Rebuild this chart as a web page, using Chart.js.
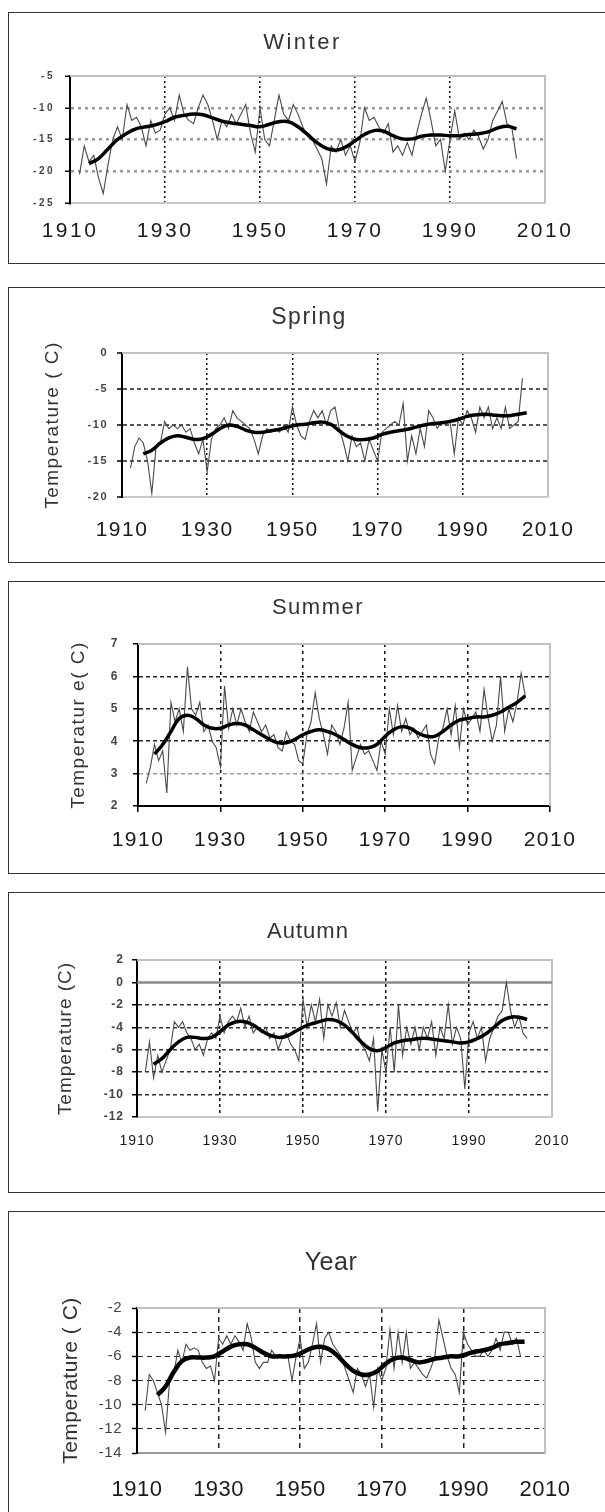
<!DOCTYPE html>
<html>
<head>
<meta charset="utf-8">
<script src="https://cdn.jsdelivr.net/npm/chart.js@4.4.1/dist/chart.umd.min.js"></script>
<style>
  html, body { margin: 0; padding: 0; background: #fff; }
  #page { position: relative; width: 605px; height: 1512px; overflow: hidden; }
  .box { position: absolute; left: 8px; width: 660px; border: 1.5px solid #333; box-sizing: border-box; }
  canvas { position: absolute; left: 0; }
</style>
</head>
<body>
<div id="page"></div>
<script>
// yearly values 1912-2004, smoothed curve read every second year
const rawYears = Array.from({length: 93}, (_, i) => 1912 + i);
const smoothYearsEven = Array.from({length: 46}, (_, i) => 1914 + 2 * i);
const smoothYearsOdd = Array.from({length: 46}, (_, i) => 1915 + 2 * i);
const xTicks = [1910, 1930, 1950, 1970, 1990, 2010];

const winterRaw = [-20.5, -16, -18.5, -17.5, -21, -23.5, -19, -15, -13, -15,
  -9.5, -12, -11.5, -13, -16, -12, -14, -13.5, -11, -10,
  -12, -8, -11, -12, -12.5, -10, -8, -9.5, -12, -15,
  -12, -13, -11, -12.5, -11, -9.5, -14, -17, -10, -15,
  -16, -12, -8, -11, -12, -9.5, -11, -13, -14.5, -15,
  -16.5, -18, -22, -16, -17, -15, -17.5, -16, -18.5, -15.5,
  -10, -12, -11.5, -13, -14, -12.5, -17, -16, -17.5, -15.5,
  -17.5, -14, -11, -8.5, -12, -16, -15, -20, -15, -10.5,
  -15, -14, -15, -13.5, -14.5, -16.5, -15, -12, -10.5, -9,
  -12.5, -13, -18];
const winterSmooth = [-18.8, -18, -16.5, -15, -14, -13.3, -13, -12.7, -12.2, -11.5,
  -11.2, -11, -11.1, -11.6, -12.1, -12.4, -12.6, -12.8, -13, -12.6,
  -12.2, -12.2, -13, -14.2, -15.5, -16.4, -16.7, -16.2, -15.2, -14.2,
  -13.6, -13.7, -14.4, -14.9, -14.9, -14.5, -14.3, -14.3, -14.4, -14.4,
  -14.2, -14.1, -13.8, -13.2, -12.9, -13.3];

const springRaw = [-16, -13, -11.8, -12.5, -15, -19.5, -13, -12.5, -9.5, -10.5,
  -10, -10.5, -10, -11, -10.5, -12.5, -14, -12, -16.5, -12,
  -10.5, -10, -9, -10.5, -8, -9, -9.5, -10, -10.5, -12,
  -14, -11.5, -10.5, -11, -10.5, -11, -10, -11, -7.5, -10,
  -11.5, -12, -9.5, -8, -9, -8, -10, -8, -7.5, -10.5,
  -12.5, -15, -11.5, -13, -12.5, -15, -12, -13.5, -15, -11,
  -10.5, -10, -9.5, -10, -7, -15, -11.5, -14, -10.5, -13,
  -8, -9, -10.5, -9.5, -10, -9.5, -14, -9, -10, -8,
  -9, -11, -7.5, -9, -7.5, -10.5, -9, -10.5, -7.5, -10.5,
  -10, -9.5, -3.5];
const springSmooth = [-14, -13.5, -12.5, -11.8, -11.5, -11.7, -12, -11.9, -11.3, -10.5,
  -10, -10.2, -10.7, -11, -11, -10.8, -10.6, -10.3, -10, -9.9,
  -9.7, -9.6, -9.9, -10.8, -11.6, -12, -12, -11.8, -11.3, -11,
  -10.8, -10.6, -10.3, -10, -9.8, -9.7, -9.5, -9.2, -8.8, -8.6,
  -8.5, -8.6, -8.7, -8.7, -8.5, -8.3];

const summerRaw = [2.7, 3.2, 3.9, 3.4, 3.7, 2.4, 5.2, 4.6, 5, 4.3,
  6.3, 5, 4.8, 5.2, 4.3, 4.5, 4, 3.8, 3.2, 5.7,
  4.4, 5, 4.5, 5, 4.6, 4.3, 4.9, 4.6, 4.3, 4.5,
  4.1, 4.2, 3.8, 3.7, 4.3, 4, 3.9, 3.4, 3.3, 4.2,
  4.6, 5.5, 4.7, 4.2, 3.6, 4.5, 4.3, 3.9, 4.4, 5.2,
  3.1, 3.5, 3.9, 3.6, 3.7, 3.4, 3.1, 4, 3.6, 5,
  4.2, 5.1, 4.3, 4.7, 4.2, 4.4, 4.1, 4.3, 4.5, 3.6,
  3.3, 4.1, 4.4, 5, 4.2, 5.1, 3.8, 5, 4.5, 4.7,
  4.9, 4.3, 5.6, 4.7, 4, 4.5, 6, 4.3, 5, 4.6,
  5.2, 6.1, 5.4];
const summerSmooth = [3.6, 3.9, 4.3, 4.7, 4.8, 4.7, 4.5, 4.4, 4.4, 4.5,
  4.55, 4.5, 4.35, 4.2, 4.05, 3.95, 3.95, 4.05, 4.2, 4.3,
  4.35, 4.3, 4.2, 4.05, 3.9, 3.8, 3.8, 3.9, 4.15, 4.35,
  4.45, 4.4, 4.25, 4.15, 4.15, 4.3, 4.5, 4.65, 4.7, 4.75,
  4.75, 4.8, 4.9, 5.05, 5.2, 5.4];

const autumnRaw = [-8, -5.3, -8.5, -6.5, -8, -7, -6, -3.5, -4, -3.5,
  -4.5, -5, -6, -5.5, -6.5, -5, -4.5, -5, -3, -4.5,
  -3.5, -3, -3.5, -2.3, -4, -3, -4.5, -4, -4.5, -4,
  -5, -4.5, -6, -5, -4.5, -5.5, -6, -7, -1.5, -4,
  -2, -3.5, -1.5, -5, -2, -3, -1.8, -4, -2.5, -3.5,
  -4.5, -4, -5.5, -6, -7, -5, -11.5, -6, -8, -4,
  -8, -2, -6.5, -4, -5.5, -4, -6, -4, -5, -3.5,
  -6.5, -4, -5, -2, -5.5, -4, -5, -9.5, -4.5, -3.5,
  -5, -4, -7, -5, -4, -3, -2.5, 0, -2.5, -4,
  -3, -4.5, -5];
const autumnSmooth = [-7.3, -6.8, -6, -5.3, -4.9, -4.9, -5, -4.9, -4.4, -3.8,
  -3.5, -3.5, -3.8, -4.3, -4.7, -4.9, -4.8, -4.4, -4, -3.7,
  -3.5, -3.3, -3.4, -3.8, -4.5, -5.3, -5.9, -6.1, -5.8, -5.4,
  -5.2, -5.1, -5, -5, -5.1, -5.2, -5.3, -5.4, -5.3, -5,
  -4.6, -4, -3.4, -3.1, -3.1, -3.3];

const yearRaw = [-10.5, -7.5, -8, -9, -10, -12.3, -8, -7.5, -5.5, -6.5,
  -5, -5.5, -5.3, -5.5, -6.5, -7, -6.8, -8, -4.5, -5,
  -4.3, -5, -4.3, -4.8, -5.5, -3.3, -4.5, -6.5, -7, -6.5,
  -6.5, -5.5, -6, -6, -6, -6, -8, -6, -4.5, -7,
  -6.5, -5, -3.3, -6.5, -4.5, -4, -5, -5.5, -6, -7,
  -8, -9, -7, -7.5, -8.5, -7.5, -10.2, -7, -8, -7,
  -3.8, -7, -4, -6.5, -4, -7, -6.5, -7, -7.5, -7.8,
  -7, -6, -3, -4.5, -6, -7, -7.5, -9, -4, -5,
  -5.5, -6, -6, -5.5, -6, -5.5, -4.5, -5.5, -4, -4,
  -5, -4.5, -6];
const yearSmooth = [-9.2, -8.5, -7.3, -6.4, -6.1, -6.1, -6.1, -6, -5.6, -5.2,
  -5, -5, -5.3, -5.7, -6, -6, -6, -5.9, -5.6, -5.3,
  -5.2, -5.4, -5.9, -6.6, -7.2, -7.5, -7.5, -7.2, -6.6, -6.2,
  -6.1, -6.3, -6.5, -6.4, -6.2, -6.1, -6, -6, -5.8, -5.6,
  -5.5, -5.3, -5, -4.9, -4.8, -4.8];

const FONT = '"Liberation Sans", Arial, sans-serif';

const panels = [
  {title: 'Winter', raw: winterRaw, smooth: winterSmooth, smoothYears: smoothYearsEven,
   top: 12, height: 252, L: 70, R: 545, T: 64, B: 191, titleX: 300, titleY: 31, titleSize: 22, spacing: 2.5,
   yMin: -25, yMax: -5, yStep: 5, yTitle: '', yTickSize: 10, yTickBold: true, yTickPad: 10,
   xTickSize: 21, xPad: 16, hColor: '#9a9a9a', hDash: [3, 4], hWidth: 2.5, vColor: '#111', vDash: [2, 3],
   xBorder: '#c8c8c8', xTickMarks: false, smoothWidth: 3.5},
  {title: 'Spring', raw: springRaw, smooth: springSmooth, smoothYears: smoothYearsOdd,
   top: 287, height: 276, L: 122, R: 548, T: 66, B: 210, titleX: 309, titleY: 31, titleSize: 23, spacing: 1.5,
   yMin: -20, yMax: 0, yStep: 5, yTitle: 'Temperature ( C)', yTitleX: 53, yTitleSize: 19, yTickSize: 11, yTickBold: true, yTickPad: 9,
   xTickSize: 21, xPad: 21, hColor: '#555', hDash: [4, 3], hWidth: 2, vColor: '#111', vDash: [2, 3],
   xBorder: '#c8c8c8', xTickMarks: false, smoothWidth: 3.5},
  {title: 'Summer', raw: summerRaw, smooth: summerSmooth, smoothYears: smoothYearsEven,
   top: 581, height: 293, L: 138, R: 550, T: 63, B: 225, titleX: 318, titleY: 27, titleSize: 22, spacing: 1.5,
   yMin: 2, yMax: 7, yStep: 1, yTitle: 'Temperatur e( C)', yTitleX: 79, yTitleSize: 19, yTickSize: 12, yTickBold: true, yTickPad: 14,
   xTickSize: 21, xPad: 16, hColor: '#222', hDash: [4, 3], hWidth: 1.5, vColor: '#111', vDash: [3, 4],
   xBorder: '#000', xTickMarks: true, greyLine: 3, smoothWidth: 3.5},
  {title: 'Autumn', raw: autumnRaw, smooth: autumnSmooth, smoothYears: smoothYearsEven,
   top: 892, height: 301, L: 137, R: 552, T: 68, B: 225, titleX: 308, titleY: 40, titleSize: 22, spacing: 1,
   yMin: -12, yMax: 2, yStep: 2, yTitle: 'Temperature (C)', yTitleX: 66, yTitleSize: 19, yTickSize: 12, yTickBold: true, yTickPad: 8,
   xTickSize: 14, xPad: 16, hColor: '#333', hDash: [4, 3], hWidth: 1.5, vColor: '#111', vDash: [3, 3],
   xBorder: '#c8c8c8', xTickMarks: false, zeroLine: true, smoothWidth: 3.5},
  {title: 'Year', raw: yearRaw, smooth: yearSmooth, smoothYears: smoothYearsOdd,
   top: 1211, height: 330, L: 137, R: 545, T: 97, B: 242, titleX: 331, titleY: 52, titleSize: 25, spacing: 0.5,
   yMin: -14, yMax: -2, yStep: 2, yTitle: 'Temperature ( C)', yTitleX: 71, yTitleSize: 21, yTickSize: 15, yTickBold: false, yTickPad: 10,
   xTickSize: 22, xPad: 24, hColor: '#222', hDash: [5, 4], hWidth: 1, vColor: '#222', vDash: [5, 4],
   xBorder: '#999', xTickMarks: false, smoothWidth: 4.5}
];

const framePlugin = {
  id: 'frame',
  beforeDraw(chart, args, opts) {
    chart.ctx.letterSpacing = (opts.spacing || 0) + 'px';
  },
  beforeDatasetsDraw(chart, args, opts) {
    const {ctx, chartArea: a} = chart;
    ctx.save();
    ctx.strokeStyle = '#c0c0c0';
    ctx.lineWidth = 2;
    ctx.beginPath();
    ctx.moveTo(a.left, a.top);
    ctx.lineTo(a.right, a.top);
    ctx.lineTo(a.right, a.bottom);
    ctx.stroke();
    if (opts.zeroLine) {
      const y0 = chart.scales.y.getPixelForValue(0);
      ctx.strokeStyle = '#8a8a8a';
      ctx.lineWidth = 2.5;
      ctx.beginPath();
      ctx.moveTo(a.left, y0);
      ctx.lineTo(a.right, y0);
      ctx.stroke();
    }
    ctx.restore();
  },
  afterDraw(chart) {
    chart.ctx.letterSpacing = '0px';
  }
};

function toPoints(xs, ys) {
  return xs.map((x, i) => ({x, y: ys[i]}));
}

function buildPanel(p) {
  const page = document.getElementById('page');
  const box = document.createElement('div');
  box.className = 'box';
  box.style.top = p.top + 'px';
  box.style.height = p.height + 'px';
  page.appendChild(box);
  const canvas = document.createElement('canvas');
  canvas.width = 605;
  canvas.height = p.height;
  canvas.style.top = p.top + 'px';
  page.appendChild(canvas);

  const padLeft = Math.max(0, 2 * p.titleX - 605);
  const edge = (v) => v === p.yMin || v === p.yMax || (p.zeroLine && v === 0);

  return new Chart(canvas, {
    type: 'line',
    data: {
      datasets: [
        {data: toPoints(p.smoothYears, p.smooth), borderColor: '#000', borderWidth: p.smoothWidth,
         pointRadius: 0, tension: 0.4},
        {data: toPoints(rawYears, p.raw), borderColor: '#4a4a4a', borderWidth: 1.1,
         pointRadius: 0, tension: 0}
      ]
    },
    options: {
      responsive: false,
      animation: false,
      events: [],
      layout: {padding: {left: padLeft, right: 0, top: 0, bottom: 0}},
      plugins: {
        legend: {display: false},
        tooltip: {enabled: false},
        frame: {zeroLine: !!p.zeroLine, spacing: p.spacing},
        title: {
          display: true, text: p.title, color: '#333',
          font: {family: FONT, size: p.titleSize, weight: 'normal', lineHeight: 1},
          padding: {top: p.titleY - p.titleSize / 2, bottom: p.T - p.titleY - p.titleSize / 2}
        }
      },
      scales: {
        x: {
          type: 'linear', min: 1910, max: 2010,
          afterBuildTicks: (s) => { s.ticks = xTicks.map(v => ({value: v})); },
          afterFit: (s) => { s.height = p.height - p.B; },
          grid: {
            color: (c) => (c.tick && (c.tick.value === 1910 || c.tick.value === 2010)) ? 'rgba(0,0,0,0)' : p.vColor,
            lineWidth: 1.5, drawTicks: p.xTickMarks, tickLength: 6, tickColor: '#000', tickWidth: 1.5, tickBorderDash: []
          },
          border: {display: true, color: p.xBorder, width: 2, dash: p.vDash},
          ticks: {
            callback: (v) => String(v), color: '#1a1a1a', padding: p.xPad, maxRotation: 0, autoSkip: false,
            font: {family: FONT, size: p.xTickSize}
          }
        },
        y: {
          type: 'linear', min: p.yMin, max: p.yMax,
          afterFit: (s) => { s.width = p.L - padLeft; },
          grid: {
            color: (c) => (c.tick && edge(c.tick.value)) ? 'rgba(0,0,0,0)'
              : (p.greyLine !== undefined && c.tick && c.tick.value === p.greyLine ? '#9a9a9a' : p.hColor),
            lineWidth: p.hWidth, drawTicks: true, tickLength: 5, tickColor: '#000', tickWidth: 1.5, tickBorderDash: []
          },
          border: {display: true, color: '#000', width: 2, dash: p.hDash},
          ticks: {
            stepSize: p.yStep, callback: (v) => String(v), color: '#444', padding: p.yTickPad,
            font: {family: FONT, size: p.yTickSize, weight: p.yTickBold ? 'bold' : 'normal'}
          },
          title: {
            display: !!p.yTitle, text: p.yTitle, color: '#333',
            font: {family: FONT, size: p.yTitleSize || 18, lineHeight: 1},
            padding: {top: Math.max(0, (p.yTitleX || 0) - padLeft - (p.yTitleSize || 18) / 2), bottom: 0}
          }
        },
        yr: {
          type: 'linear', position: 'right', display: true,
          afterFit: (s) => { s.width = 605 - p.R; },
          grid: {display: false}, border: {display: false}, ticks: {display: false}
        }
      }
    },
    plugins: [framePlugin]
  });
}

panels.forEach(buildPanel);
</script>
</body>
</html>
